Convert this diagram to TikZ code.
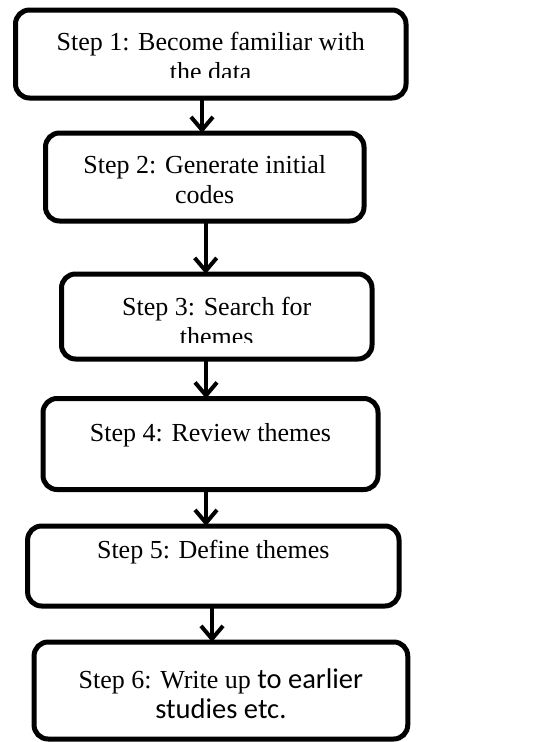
\documentclass[tikz,border=0pt]{standalone}
\usepackage{fontspec}
\setmainfont{Liberation Serif}
\newfontfamily\calibri{Carlito}
\usetikzlibrary{arrows.meta}
\tikzstyle{step box}=[draw=black, fill=white, line width=5pt, rounded corners=14pt, inner sep=0pt, outer sep=0pt]
\tikzstyle{step text}=[anchor=base, align=center, inner sep=0pt, font=\fontsize{26}{30}\selectfont]
\tikzstyle{flow edge}=[-{Straight Barb[length=13pt, width=22pt]}, line width=4pt, draw=black]
\pgfdeclarelayer{nodelayer}
\pgfdeclarelayer{edgelayer}
\pgfsetlayers{nodelayer,main,edgelayer}

\begin{document}
\begin{tikzpicture}[x=1pt, y=-1pt]
	\useasboundingbox (0, 0) rectangle (545, 742);
	\begin{pgfonlayer}{nodelayer}
		\node [style=step box, minimum width=390.5pt, minimum height=88pt] (1) at (210.75, 54) {};
		\node [style=step box, minimum width=318.5pt, minimum height=88pt] (2) at (204.75, 177) {};
		\node [style=step box, minimum width=310.5pt, minimum height=85pt] (3) at (216.75, 316.5) {};
		\node [style=step box, minimum width=335pt, minimum height=91pt] (4) at (210.5, 444) {};
		\node [style=step box, minimum width=371.4pt, minimum height=80pt] (5) at (213.3, 566) {};
		\node [style=step box, minimum width=373.7pt, minimum height=97pt] (6) at (220.9, 690.5) {};
	\end{pgfonlayer}
	% text of the steps, the second line of 1 and 3 is cut
	\begin{scope}
		\clip (20, 12) rectangle (400, 77.5);
		\node [style=step text] (t1) at (210.75, 80) {Step 1: Become familiar with\\the data};
	\end{scope}
	\node [style=step text] (t2) at (204.75, 203) {Step 2: Generate initial\\codes};
	\begin{scope}
		\clip (65, 276) rectangle (368, 342);
		\node [style=step text] (t3) at (216.75, 345) {Step 3: Search for\\themes};
	\end{scope}
	\node [style=step text] (t4) at (210.5, 441.5) {Step 4: Review themes};
	\node [style=step text] (t5) at (213.3, 558) {Step 5: Define themes};
	\node [style=step text] (t6) at (220.9, 718) {Step 6: Write up {\calibri\fontsize{28.5}{30}\selectfont to earlier}\\{\calibri\fontsize{28.5}{30}\selectfont studies etc.}};
	\begin{pgfonlayer}{edgelayer}
		\draw [style=flow edge] ([xshift=-8.75pt]1.south) to ([xshift=-2.75pt]2.north);
		\draw [style=flow edge] ([xshift=0.95pt]2.south) to ([xshift=-11.05pt]3.north);
		\draw [style=flow edge] ([xshift=-10.75pt]3.south) to ([xshift=-4.5pt]4.north);
		\draw [style=flow edge] ([xshift=-4.5pt]4.south) to ([xshift=-7.3pt]5.north);
		\draw [style=flow edge] ([xshift=-1.3pt]5.south) to ([xshift=-8.9pt]6.north);
	\end{pgfonlayer}
\end{tikzpicture}
\end{document}
